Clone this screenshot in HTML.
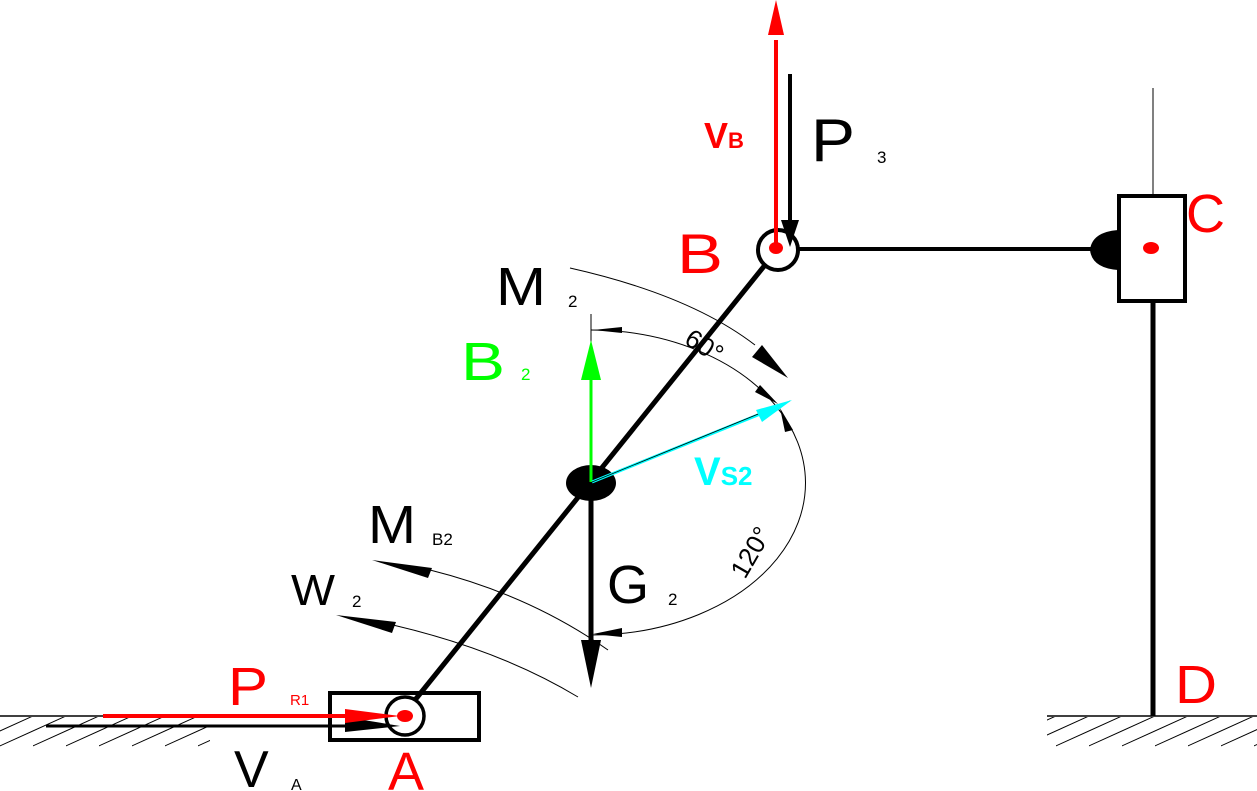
<!DOCTYPE html>
<html><head><meta charset="utf-8"><style>
html,body{margin:0;padding:0;background:#fff;}
svg{display:block;}
text{font-family:"Liberation Sans",sans-serif;}
</style></head><body>
<svg width="1257" height="791" viewBox="0 0 1257 791" xmlns="http://www.w3.org/2000/svg">
<defs>
<clipPath id="gl"><rect x="0" y="716" width="210" height="46"/></clipPath>
<clipPath id="gr"><rect x="1047" y="716" width="210" height="46"/></clipPath>
<pattern id="hp" width="33" height="200" patternUnits="userSpaceOnUse" x="0" y="716">
<line x1="33" y1="0" x2="-62" y2="43" stroke="#000" stroke-width="1"/>
<line x1="66" y1="0" x2="-29" y2="43" stroke="#000" stroke-width="1"/>
</pattern>
</defs>
<line x1="0" y1="716" x2="103" y2="716" stroke="#000" stroke-width="1.5"/>
<rect x="0" y="717" width="210" height="44" fill="url(#hp)" clip-path="url(#gl)"/>
<line x1="1047" y1="716" x2="1257" y2="716" stroke="#000" stroke-width="1.5"/>
<rect x="1047" y="717" width="210" height="44" fill="url(#hp)" clip-path="url(#gr)"/>

<path d="M591 330 A214 152 0 0 1 776 406" fill="none" stroke="#000" stroke-width="1"/>
<path d="M776 406 A214 152 0 0 1 591 635" fill="none" stroke="#000" stroke-width="1"/>
<line x1="591" y1="314" x2="591" y2="482" stroke="#000" stroke-width="1"/>
<polygon points="593,330 622,327 622,333" fill="#000"/>
<polygon points="593,634 622,628 622,637" fill="#000"/>
<polygon points="778,404 760,385 755,392" fill="#000"/>
<polygon points="780,408 793,430 785,432" fill="#000"/>
<path d="M570 268 Q690 295 755 345" fill="none" stroke="#000" stroke-width="1"/>
<polygon points="788,378 752,357 762,345" fill="#000"/>
<path d="M430 570 Q530 595 608 650" fill="none" stroke="#000" stroke-width="1"/>
<polygon points="372,560 432,568 428,578" fill="#000"/>
<path d="M393 625 Q500 650 578 697" fill="none" stroke="#000" stroke-width="1"/>
<polygon points="336,615 396,622 392,633" fill="#000"/>

<line x1="415" y1="700" x2="765" y2="265" stroke="#000" stroke-width="5"/>
<rect x="330" y="693" width="149" height="47" fill="none" stroke="#000" stroke-width="4"/>
<circle cx="405" cy="716" r="19" fill="#fff" stroke="#000" stroke-width="3.5"/>
<line x1="46" y1="726" x2="350" y2="726" stroke="#000" stroke-width="3"/>
<polygon points="345,717 345,732 400,726" fill="#000"/>
<line x1="103" y1="716" x2="350" y2="716" stroke="#f00" stroke-width="4"/>
<polygon points="345,709 345,723 400,716" fill="#f00"/>
<ellipse cx="405" cy="716" rx="8" ry="6" fill="#f00"/>

<line x1="798" y1="249" x2="1095" y2="249" stroke="#000" stroke-width="4"/>
<circle cx="778" cy="250" r="20" fill="#fff" stroke="#000" stroke-width="4"/>
<line x1="776" y1="40" x2="776" y2="248" stroke="#f00" stroke-width="4"/>
<polygon points="768,35 784,35 776,0" fill="#f00"/>
<ellipse cx="776" cy="248" rx="7" ry="6" fill="#f00"/>
<line x1="790" y1="74" x2="790" y2="220" stroke="#000" stroke-width="4"/>
<polygon points="781,220 799,220 790,247" fill="#000"/>

<line x1="1153" y1="88" x2="1153" y2="196" stroke="#000" stroke-width="1"/>
<path d="M1118 230 Q1092 232 1090 250 Q1092 268 1118 270 Z" fill="#000"/>
<rect x="1119" y="196" width="66" height="105" fill="none" stroke="#000" stroke-width="4"/>
<ellipse cx="1151" cy="248" rx="8" ry="6" fill="#f00"/>
<line x1="1153" y1="302" x2="1153" y2="716" stroke="#000" stroke-width="5"/>

<line x1="591" y1="482" x2="591" y2="645" stroke="#000" stroke-width="5"/>
<polygon points="581,640 601,640 591,688" fill="#000"/>
<ellipse cx="591" cy="483" rx="25" ry="18" fill="#000"/>
<line x1="591" y1="482" x2="591" y2="375" stroke="#0f0" stroke-width="3"/>
<polygon points="581,380 601,380 591,340" fill="#0f0"/>
<line x1="592" y1="482" x2="770" y2="410" stroke="#0ff" stroke-width="3"/>
<line x1="592" y1="482" x2="790" y2="401" stroke="#000" stroke-width="0.8"/>
<polygon points="756,410 762,422 792,400" fill="#0ff"/>

<text x="496" y="305" font-size="54" fill="#000" textLength="50" lengthAdjust="spacingAndGlyphs">M</text>
<text x="568" y="307" font-size="17" fill="#000">2</text>
<text x="461" y="380" font-size="54" fill="#0f0" textLength="44" lengthAdjust="spacingAndGlyphs">B</text>
<text x="521" y="380" font-size="17" fill="#0f0">2</text>
<text x="0" y="0" font-size="26" fill="#000" transform="translate(683,343) rotate(32)">60°</text>
<text x="694" y="485" font-size="40" font-weight="bold" fill="#0ff" font-family="Liberation Serif">V<tspan font-size="26">S2</tspan></text>
<text x="368" y="543" font-size="54" fill="#000" textLength="48" lengthAdjust="spacingAndGlyphs">M</text>
<text x="432" y="545" font-size="17" fill="#000">B2</text>
<text x="291" y="605" font-size="44" fill="#000" textLength="44" lengthAdjust="spacingAndGlyphs">W</text>
<text x="352" y="607" font-size="17" fill="#000">2</text>
<text x="607" y="603" font-size="54" fill="#000">G</text>
<text x="668" y="605" font-size="17" fill="#000">2</text>
<text x="0" y="0" font-size="26" fill="#000" transform="translate(745,580) rotate(-60)">120°</text>
<text x="228" y="705" font-size="54" fill="#f00" textLength="40" lengthAdjust="spacingAndGlyphs">P</text>
<text x="290" y="705" font-size="15" fill="#f00">R1</text>
<text x="234" y="787" font-size="52" fill="#000">V</text>
<text x="291" y="790" font-size="16" fill="#000">A</text>
<text x="388" y="790" font-size="54" fill="#f00">A</text>
<text x="1175" y="703" font-size="54" fill="#f00" textLength="42" lengthAdjust="spacingAndGlyphs">D</text>
<text x="677" y="273" font-size="56" fill="#f00" textLength="46" lengthAdjust="spacingAndGlyphs">B</text>
<text x="1186" y="232" font-size="54" fill="#f00">C</text>
<text x="811" y="161" font-size="60" fill="#000" textLength="44" lengthAdjust="spacingAndGlyphs">P</text>
<text x="877" y="163" font-size="17" fill="#000">3</text>
<text x="704" y="148" font-size="36" font-weight="bold" fill="#f00" font-family="Liberation Serif">V<tspan font-size="22">B</tspan></text>
</svg>
</body></html>
